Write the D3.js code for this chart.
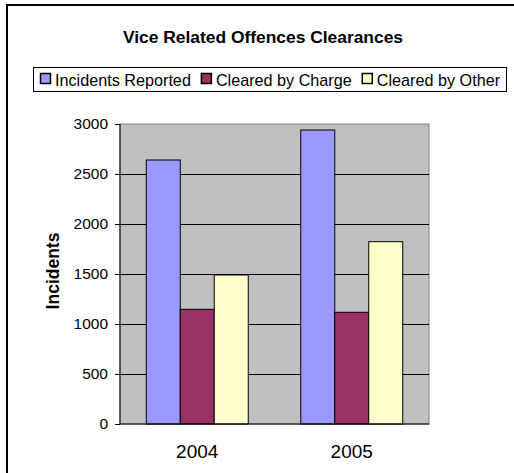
<!DOCTYPE html>
<html>
<head>
<meta charset="utf-8">
<script src="https://cdn.jsdelivr.net/npm/d3@7"></script>
<style>
  body { margin: 0; background: #fff; }
  text { font-family: Arial, "Liberation Sans", sans-serif; fill: #000; }
</style>
</head>
<body>
<script>
// chart values
var years = ["2004", "2005"];
var series = ["Incidents Reported", "Cleared by Charge", "Cleared by Other"];
var reported = [2640, 2940];
var byCharge = [1147, 1117];
var byOther = [1490, 1823];
var yTicks = [0, 500, 1000, 1500, 2000, 2500, 3000];
var colors = ["#9999ff", "#993366", "#ffffcc"];

function main() {
  var width = 514, height = 473;
  var plot = {left: 120, right: 429, top: 124, bottom: 424};

  var svg = d3.select("body").append("svg")
    .attr("width", width)
    .attr("height", height);

  // outer chart frame, runs off the right and bottom of the picture
  svg.append("rect")
    .attr("x", 7).attr("y", 5)
    .attr("width", 540).attr("height", 500)
    .attr("fill", "#fff")
    .attr("stroke", "#000")
    .attr("stroke-width", 2);

  // title
  svg.append("text")
    .attr("x", 263)
    .attr("y", 43)
    .attr("text-anchor", "middle")
    .style("font-size", "17.4px")
    .style("font-weight", "bold")
    .text("Vice Related Offences Clearances");

  var xScale = d3.scaleBand()
    .domain(years)
    .range([plot.left, plot.right])
    .paddingInner(0.34)
    .paddingOuter(0.17);

  var xSub = d3.scaleBand()
    .domain(series)
    .range([0, xScale.bandwidth()]);

  var yScale = d3.scaleLinear()
    .domain([0, 3000])
    .range([plot.bottom, plot.top]);

  // plot background
  svg.append("rect")
    .attr("x", plot.left).attr("y", plot.top)
    .attr("width", plot.right - plot.left)
    .attr("height", plot.bottom - plot.top)
    .attr("fill", "#c0c0c0")
    .attr("stroke", "#808080")
    .attr("stroke-width", 1);

  // gridlines
  svg.append("g")
    .selectAll("line")
    .data(yTicks.filter(d => d > 0 && d < 3000))
    .enter()
    .append("line")
    .attr("x1", plot.left).attr("x2", plot.right)
    .attr("y1", d => Math.round(yScale(d)) + 0.5)
    .attr("y2", d => Math.round(yScale(d)) + 0.5)
    .attr("stroke", "#000")
    .attr("stroke-width", 1);

  // bars
  var table = years.map((y, i) => ({year: y, values: [reported[i], byCharge[i], byOther[i]]}));

  svg.append("g")
    .selectAll("g")
    .data(table)
    .enter()
    .append("g")
    .attr("transform", d => "translate(" + xScale(d.year) + ",0)")
    .selectAll("rect")
    .data(d => d.values.map((v, j) => ({name: series[j], value: v, color: colors[j]})))
    .enter()
    .append("rect")
    .attr("x", d => xSub(d.name))
    .attr("y", d => yScale(d.value))
    .attr("width", xSub.bandwidth())
    .attr("height", d => plot.bottom - yScale(d.value))
    .attr("fill", d => d.color)
    .attr("stroke", "#000")
    .attr("stroke-width", 1);

  // y axis
  var yAxis = d3.axisLeft(yScale)
    .tickValues(yTicks)
    .tickFormat(d3.format("d"))
    .tickSize(5)
    .tickPadding(7);

  var gY = svg.append("g")
    .attr("transform", "translate(" + plot.left + ",0)")
    .call(yAxis);
  gY.select(".domain").attr("d", "M0," + plot.top + "V" + plot.bottom).attr("stroke", "#000");
  gY.selectAll("text").style("font-size", "15.5px").attr("font-family", null);

  // x axis
  var gX = svg.append("g")
    .attr("transform", "translate(0," + plot.bottom + ")")
    .call(d3.axisBottom(xScale).tickSize(0).tickPadding(21));
  gX.select(".domain").attr("d", "M" + plot.left + ",0H" + plot.right).attr("stroke", "#000");
  gX.selectAll("text").style("font-size", "19px").attr("font-family", null);

  // y axis title
  svg.append("text")
    .attr("transform", "translate(59,271) rotate(-90)")
    .attr("text-anchor", "middle")
    .style("font-size", "17.5px")
    .style("font-weight", "bold")
    .text("Incidents");

  // legend
  var legend = svg.append("g");
  legend.append("rect")
    .attr("x", 33.5).attr("y", 67.5)
    .attr("width", 473).attr("height", 24)
    .attr("fill", "#fff")
    .attr("stroke", "#000")
    .attr("stroke-width", 1);

  var lx = 40;
  series.forEach((name, i) => {
    legend.append("rect")
      .attr("x", lx + 0.5).attr("y", 73.5)
      .attr("width", 10).attr("height", 10)
      .attr("fill", colors[i])
      .attr("stroke", "#000")
      .attr("stroke-width", 1.5);
    var t = legend.append("text")
      .attr("x", lx + 15)
      .attr("y", 86)
      .style("font-size", "16.2px")
      .text(name);
    lx += 15 + t.node().getComputedTextLength() + 10;
  });
}

main();
</script>
</body>
</html>
